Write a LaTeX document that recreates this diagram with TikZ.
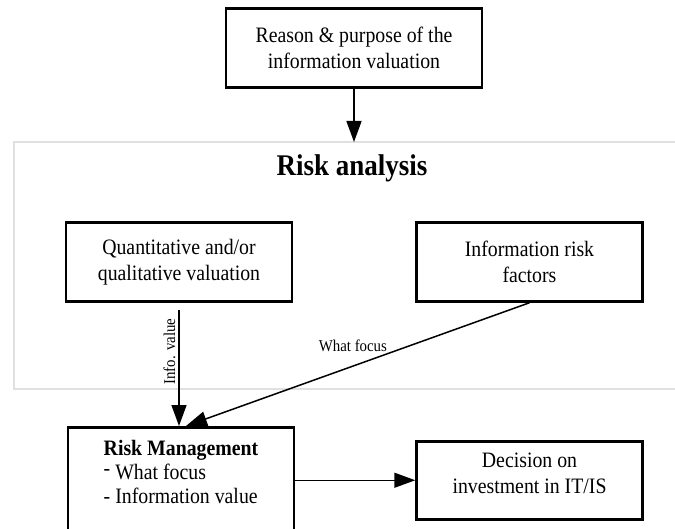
\documentclass[tikz,border=0pt]{standalone}
\usepackage{fontspec}
\setmainfont{Liberation Serif}[FakeStretch=0.9]
\usepackage{tikz}
\usetikzlibrary{
    positioning,
    arrows.meta
}
\definecolor{FrameGray}{RGB}{224,224,224}

\begin{document}
\begin{tikzpicture}[
    x=1pt, y=-1pt,
    box/.style={rectangle, draw, line width=2.5pt, align=center, font=\fontsize{22}{26}\selectfont, minimum width=226pt, minimum height=79pt},
    arr/.style={line width=1.5pt, -{Triangle[length=21pt, width=15pt]}},
    lbl/.style={font=\fontsize{16.5}{18}\selectfont, inner sep=1pt},
]
\useasboundingbox (0,0) rectangle (675,529);
% risk analysis frame
\draw[FrameGray, line width=1.5pt] (675,142) -- (14,142) -- (14,389) -- (675,389);
\coordinate (frametop) at (352,142);

\node[box, minimum width=256pt] (reason) at (354,48) {Reason \& purpose of the\\information valuation};
\node[font=\fontsize{30}{32}\selectfont\bfseries] (title) at (352,168) {Risk analysis};
\node[box] (quant) at (179,262) {Quantitative and/or\\qualitative valuation};
\node[box, right=122pt of quant] (factors) {Information risk\\factors};
\node[box, minimum height=106pt, anchor=north] (riskmgmt) at (181,426) {};
\node[anchor=north, align=left, font=\fontsize{22}{24}\selectfont] (rmtext) at ([yshift=-11pt]riskmgmt.north) {\textbf{Risk Management}\\\raisebox{4pt}{-} What focus\\- Information value};
\node[box, minimum height=78pt, right=120pt of riskmgmt] (decision) {Decision on\\investment in IT/IS\\[-12pt]};

\draw[arr] (reason.south) -- (reason.south |- frametop);
\draw[arr] ([yshift=-7pt]quant.south) -- node[lbl, pos=0.36, rotate=90, anchor=south, inner sep=3pt] {Info. value} (quant.south |- riskmgmt.north);
\draw[arr] (factors.south) -- node[lbl, pos=0.41, anchor=south east] {What focus} ([xshift=5pt]riskmgmt.north);
\draw[arr] (riskmgmt.east |- decision.west) -- (decision.west);
\end{tikzpicture}
\end{document}
